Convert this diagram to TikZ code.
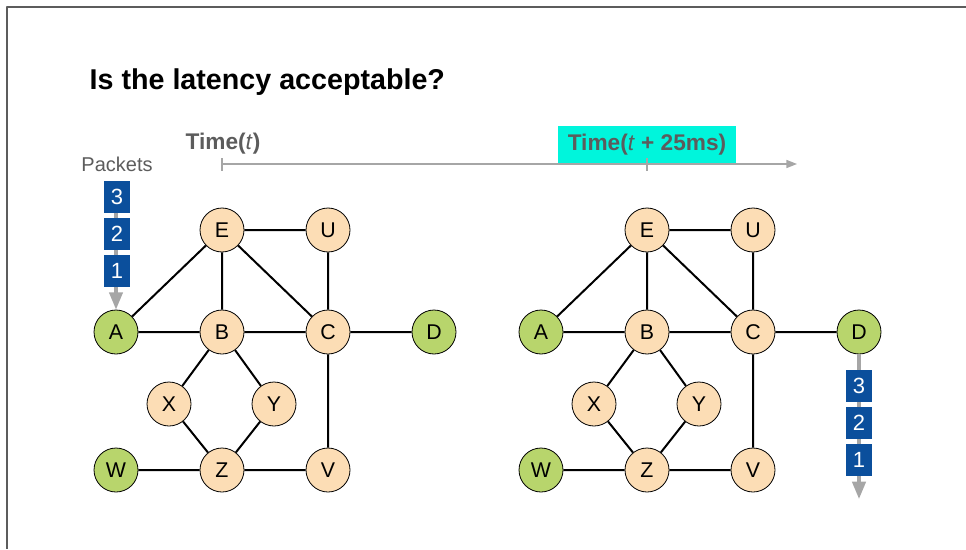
\documentclass[tikz,border=0pt]{standalone}
\usepackage{fontspec}
\setmainfont{Liberation Sans}
\usetikzlibrary{arrows.meta}
\definecolor{peach}{HTML}{FCDDB5}
\definecolor{leaf}{HTML}{B8D56C}
\definecolor{pktblue}{HTML}{0B4F9C}
\definecolor{axisgray}{HTML}{A6A6A6}
\definecolor{labelgray}{HTML}{5C5C5C}
\definecolor{hilite}{HTML}{00F5DC}
\tikzset{
  router/.style={circle,draw=black,line width=0.6pt,fill=peach,minimum size=33pt,inner sep=0pt,font=\fontsize{16}{16}\selectfont},
  host/.style={router,fill=leaf},
  link/.style={line width=1.5pt},
  packet/.style={fill=pktblue,text=white,minimum width=20pt,minimum height=24pt,inner sep=0pt,font=\fontsize{16.5}{17}\selectfont},
  flow/.style={axisgray,line width=2.5pt,-{Triangle[length=13pt,width=10pt]}},
  timelbl/.style={text=labelgray,font=\fontsize{17}{18}\bfseries\selectfont},
}
\begin{document}
\begin{tikzpicture}[x=0.75pt,y=-0.75pt,line join=round]
\useasboundingbox (0,0) rectangle (966,549);
\draw[labelgray,line width=1.1pt] (966,7) -- (7,7) -- (7,549);
\node[anchor=base west,font=\fontsize{21.5}{26}\bfseries\selectfont] (title) at (85,90) {Is the latency acceptable?};

% time axis
\coordinate (t0) at (222,164); \coordinate (tend) at (797,164); \coordinate (t25) at (647,164);
\node[anchor=south,fill=hilite,minimum width=133pt,minimum height=28.5pt,inner sep=0pt,timelbl] (later) at (t25) {Time(\textmd{\textit{t}} + 25ms)};
\draw[axisgray,line width=1.1pt,-{Triangle[length=8pt,width=6pt]}] (t0) -- (tend);
\draw[axisgray,line width=1.1pt] (222,158) -- (222,171) (647,158) -- (647,171);
\node[timelbl] (now) at (223,144) {Time(\textmd{\textit{t}})};
\node[text=labelgray,font=\fontsize{15}{16}\selectfont] (pklbl) at (117,164) {Packets};

% same network at both instants
\foreach \g/\dx in {l/0,r/425}{
\begin{scope}[shift={(\dx,0)},name prefix=\g]
  \node[host] (A) at (116,332) {A}; \node[router] (B) at (222,332) {B};
  \node[router] (C) at (328,332) {C}; \node[host] (D) at (434,332) {D};
  \node[router] (E) at (222,230) {E}; \node[router] (U) at (328,230) {U};
  \node[router] (X) at (169,404) {X}; \node[router] (Y) at (274,404) {Y};
  \node[host] (W) at (116,470) {W}; \node[router] (Z) at (222,470) {Z};
  \node[router] (V) at (328,470) {V};
  \draw[link] (A)--(E) (A)--(B) (E)--(U) (E)--(B) (E)--(C) (U)--(C) (B)--(C) (C)--(D);
  \draw[link] (B)--(X) (B)--(Y) (X)--(Z) (Y)--(Z) (W)--(Z) (Z)--(V) (C)--(V);
\end{scope}}

% packets entering at A and leaving at D
\coordinate (pkin) at (116,188); \coordinate (pkout) at (859,499);
\draw[flow] (pkin) -- (lA);
\draw[flow] (rD) -- (pkout);
\node[packet] (l3) at (117,197) {3}; \node[packet] (l2) at (117,234) {2}; \node[packet] (l1) at (117,271) {1};
\node[packet] (r3) at (859,386) {3}; \node[packet] (r2) at (859,423) {2}; \node[packet] (r1) at (859,460) {1};
\end{tikzpicture}
\end{document}
